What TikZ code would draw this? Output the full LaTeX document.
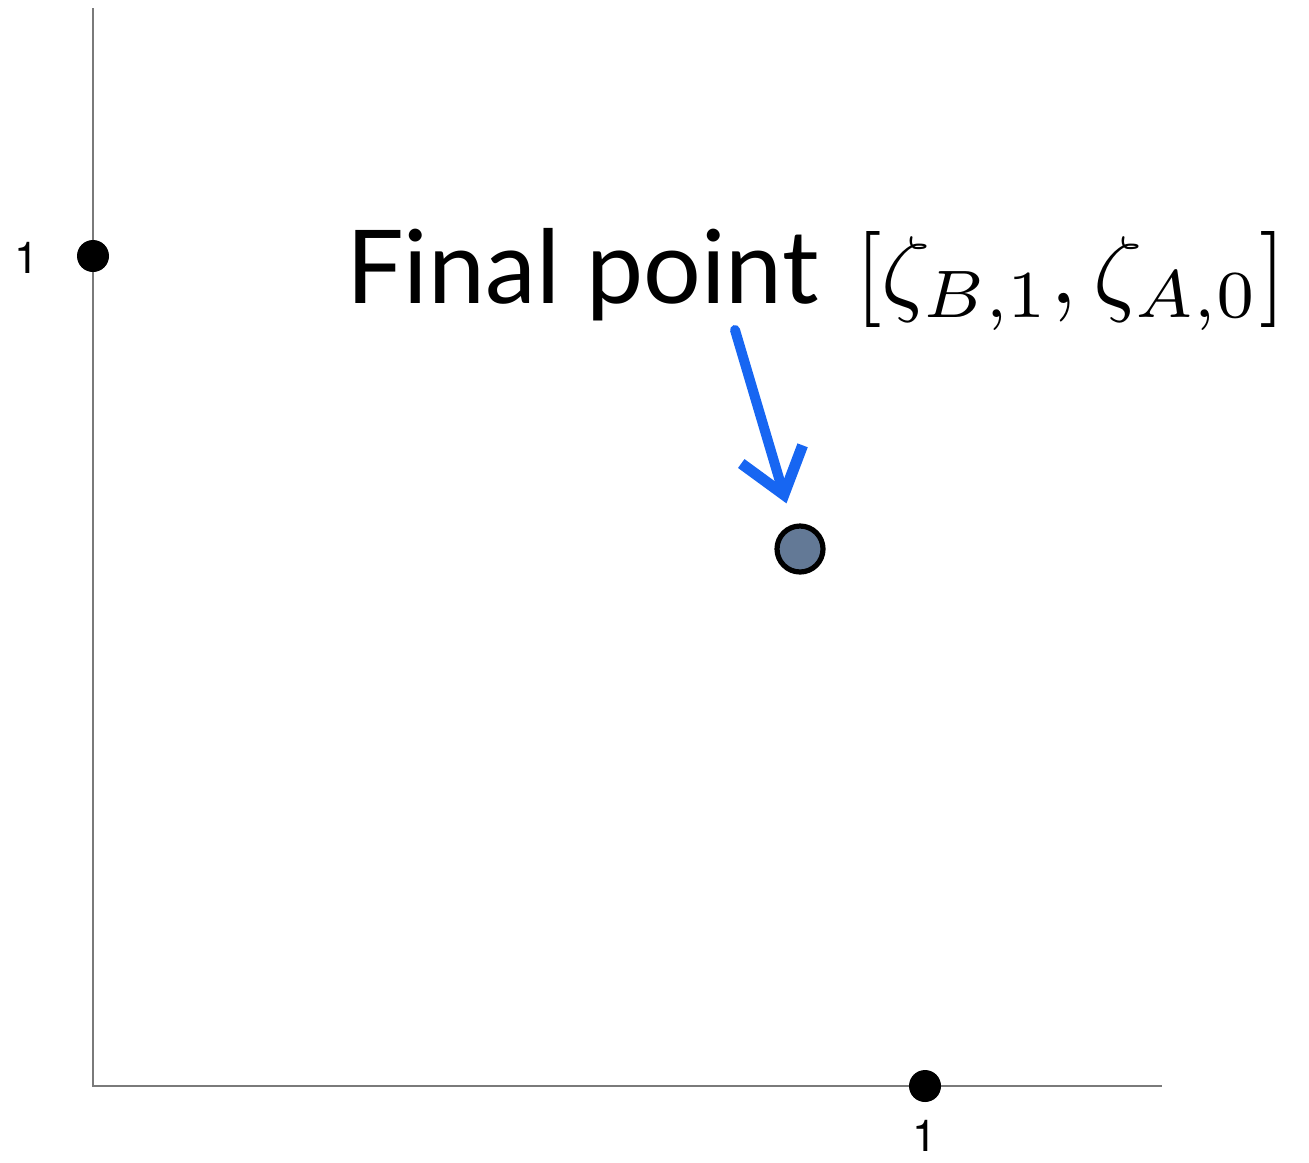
\documentclass[tikz,border=0pt]{standalone}
\usepackage{fontspec}
\usepackage{amsmath}
\usetikzlibrary{arrows.meta,positioning}
\newfontfamily\labelfont{Lato}
\newfontfamily\tickfont{TeX Gyre Heros}
\definecolor{AxisGray}{HTML}{7A7A7A}
\definecolor{PointFill}{HTML}{637996}
\definecolor{SketchBlue}{HTML}{1766F2}

\begin{document}
\begin{tikzpicture}[x=0.5pt,y=-0.5pt,
      axis/.style={draw=AxisGray,line width=0.8pt},
      tickdot/.style={circle,fill=black,inner sep=0pt,minimum size=16pt},
      ticklabel/.style={font=\tickfont\fontsize{22}{26}\selectfont,inner sep=0pt},
      finalpt/.style={circle,draw=black,line width=2.6pt,fill=PointFill,
        inner sep=0pt,minimum size=23pt},
      pointer/.style={-{Straight Barb[length=21pt,width=32pt,line width=5.5pt]},
        line width=5pt,color=SketchBlue,line cap=round,shorten >=11pt}
    ]
      \useasboundingbox (0,0) rectangle (1309,1162);
      % axes
      \coordinate (o) at (93,1086);
      \coordinate (ytop) at (93,8);
      \coordinate (xend) at (1162,1086);
      \draw[axis] (ytop) -- (o) -- (xend);
      % unit points
      \node[tickdot] (y1) at (93,256) {};
      \node[tickdot] (x1) at (925,1086) {};
      \node[ticklabel] (y1lab) at (27,258) {1};
      \node[ticklabel] (x1lab) at (925,1136) {1};
      % final point and label
      \node[finalpt] (fp) at (800,549) {};
      \node[inner sep=0pt,anchor=base west] (fplab) at (346,303)
        {\labelfont\fontsize{51}{60}\selectfont Final point\hspace{0.36em}%
         \scalebox{4.8}{\fontsize{10}{12}\selectfont$[\zeta_{B,1},\zeta_{A,0}]$}};
      \coordinate (tail) at (735,330);
      \draw[pointer] (tail) -- (fp);
    \end{tikzpicture}
\end{document}
